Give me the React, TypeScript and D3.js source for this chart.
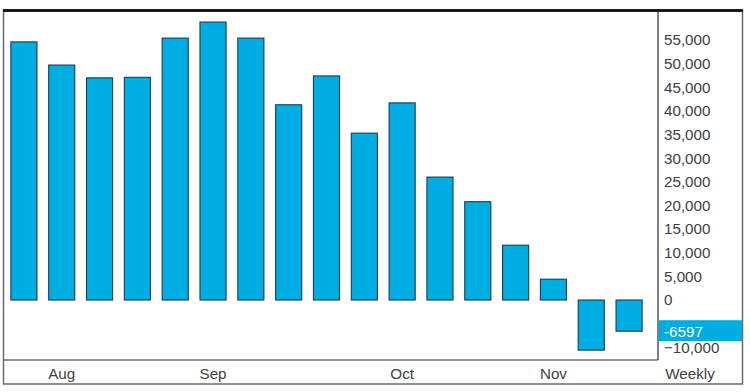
import React from "react";
import * as d3 from "d3";

const categories = ["W1","W2","W3","W4","W5","W6","W7","W8","W9","W10","W11","W12","W13","W14","W15","W16","W17"];
const values = [54600, 49700, 47000, 47100, 55400, 58800, 55400, 41300, 47400, 35300, 41700, 26000, 20800, 11600, 4400, -10600, -6597];
const monthLabels = ["Aug", "Sep", "Oct", "Nov"];
const monthIndex = [1, 5, 10, 14];
const yTicks = [55000, 50000, 45000, 40000, 35000, 30000, 25000, 20000, 15000, 10000, 5000, 0, -10000];
const lastLabel = "-6597";
const periodLabel = "Weekly";

export default function App() {
  const W = 750, H = 392;
  const plotLeft = 4, plotRight = 658, plotTop = 11, plotBottom = 360;
  const x = d3.scaleBand<string>().domain(categories).range([5, 648]).paddingInner(0.31).paddingOuter(0.155);
  const y = d3.scaleLinear().domain([-10000, 55000]).range([347.3, 40]);
  const fmt = d3.format(",");
  const font = "'Liberation Sans', Arial, sans-serif";
  const fs = 15.2;
  const barColor = "#00ade2";
  const lastY = y(values[values.length - 1]);
  return (
    <svg width={W} height={H} style={{ position: "absolute", left: 0, top: 0, background: "#fff" }}>
      <rect x={3.5} y={10.5} width={739} height={373.5} fill="#fff" stroke="#6b6b6b" strokeWidth={1.5} />
      <line x1={3} x2={743} y1={10.5} y2={10.5} stroke="#1a1a1a" strokeWidth={3} />
      <line x1={plotRight} x2={plotRight} y1={plotTop} y2={plotBottom} stroke="#2a2a2a" strokeWidth={1.2} />
      <line x1={plotLeft} x2={plotRight} y1={plotBottom} y2={plotBottom} stroke="#2a2a2a" strokeWidth={1.2} />
      {values.map((v, i) => {
        const y0 = y(0), y1 = y(v);
        return (
          <rect key={i} x={x(categories[i])} y={Math.min(y0, y1)} width={x.bandwidth()} height={Math.abs(y1 - y0)}
            fill={barColor} stroke="#1d3c4c" strokeWidth={1.1} />
        );
      })}
      {yTicks.map((t) => (
        <text key={t} x={664} y={y(t)} dy="0.35em" fontFamily={font} fontSize={fs} fill="#404040">{fmt(t)}</text>
      ))}
      <rect x={659} y={lastY - 11} width={83} height={21} fill={barColor} />
      <text x={664} y={lastY} dy="0.35em" fontFamily={font} fontSize={fs} fill="#fff">{lastLabel}</text>
      {monthLabels.map((m, i) => (
        <text key={m} x={(x(categories[monthIndex[i]]) as number) + x.bandwidth() / 2} y={374} dy="0.35em" textAnchor="middle"
          fontFamily={font} fontSize={fs} fill="#404040">{m}</text>
      ))}
      <text x={690} y={374} dy="0.35em" textAnchor="middle" fontFamily={font} fontSize={fs} fill="#404040">{periodLabel}</text>
    </svg>
  );
}
